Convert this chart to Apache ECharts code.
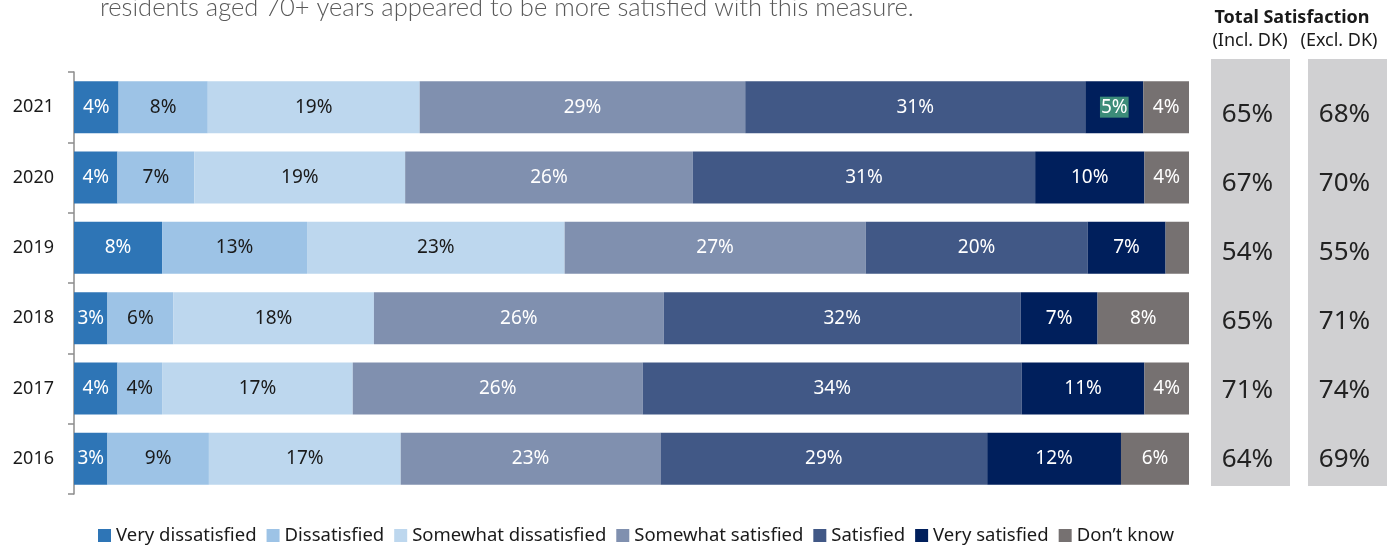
<!DOCTYPE html>
<html>
<head>
<meta charset="utf-8">
<title>Total Satisfaction</title>
<script src="https://cdn.jsdelivr.net/npm/echarts@6/dist/echarts.min.js"></script>
<style>
  html, body { margin: 0; padding: 0; background: #fff; }
  #main { width: 1394px; height: 546px; }
</style>
</head>
<body>
<div id="main"></div>
<script>
// years, top to bottom
var years = ['2021', '2020', '2019', '2018', '2017', '2016'];

// shares per year (%)
var veryDissatisfied     = [4.0, 3.9, 7.9, 3.0, 3.9, 3.0];
var dissatisfied         = [8.0, 6.9, 13.0, 5.9, 4.0, 9.1];
var somewhatDissatisfied = [19.0, 18.9, 23.1, 18.0, 17.1, 17.2];
var somewhatSatisfied    = [29.2, 25.8, 27.0, 26.0, 26.0, 23.3];
var satisfied            = [30.5, 30.7, 19.9, 32.0, 34.0, 29.3];
var verySatisfied        = [5.2, 9.8, 7.0, 6.9, 11.0, 12.0];
var dontKnow             = [4.1, 4.0, 2.1, 8.2, 4.0, 6.1];

// total satisfaction columns
var totalInclDK = [65, 67, 54, 65, 71, 64];
var totalExclDK = [68, 70, 55, 71, 74, 69];

var FONT = 'Noto Sans';

var seriesDefs = [
	{ name: 'Very dissatisfied',     data: veryDissatisfied,     color: '#2e75b6', text: '#fff' },
	{ name: 'Dissatisfied',          data: dissatisfied,         color: '#9dc3e6', text: '#1a1a1a' },
	{ name: 'Somewhat dissatisfied', data: somewhatDissatisfied, color: '#bdd7ee', text: '#1a1a1a' },
	{ name: 'Somewhat satisfied',    data: somewhatSatisfied,    color: '#8090af', text: '#fff' },
	{ name: 'Satisfied',             data: satisfied,            color: '#415886', text: '#fff' },
	{ name: 'Very satisfied',        data: verySatisfied,        color: '#001f5c', text: '#fff' },
	{ name: 'Don\u2019t know',       data: dontKnow,             color: '#767171', text: '#fff' }
];

var series = seriesDefs.map(function (d) {
	return {
		name: d.name,
		type: 'bar',
		stack: 'all',
		barCategoryGap: '26%',
		itemStyle: { color: d.color },
		label: {
			show: true,
			position: 'inside',
			color: d.text,
			fontFamily: FONT,
			fontSize: 19,
			formatter: function (p) {
				return p.value < 2.5 ? '' : Math.round(p.value) + '%';
			}
		},
		data: d.data.map(function (v, i) {
			// 2021 "Very satisfied" label is highlighted in the source
			if (d.name === 'Very satisfied' && i === 0) {
				return { value: v, label: { backgroundColor: '#3c8c79', padding: [1, 1] } };
			}
			return v;
		})
	};
});

function totalSeries(idx, values) {
	return {
		name: 'total' + idx,
		type: 'bar',
		xAxisIndex: idx,
		yAxisIndex: idx,
		barWidth: '100%',
		silent: true,
		itemStyle: { color: 'rgba(0,0,0,0)' },
		label: {
			show: true,
			position: 'inside',
			offset: [-3, 0],
			color: '#222',
			fontFamily: FONT,
			fontSize: 26,
			formatter: function (p) { return values[p.dataIndex] + '%'; }
		},
		data: values.map(function () { return 1; })
	};
}
series.push(totalSeries(1, totalInclDK));
series.push(totalSeries(2, totalExclDK));

var chart = echarts.init(document.getElementById('main'));

var option = {
	animation: false,
	textStyle: { fontFamily: FONT },
	grid: [
		{ left: 74, right: 205, top: 72, bottom: 52 },
		{ left: 1211, width: 79, top: 80, height: 414 },
		{ left: 1308, width: 79, top: 80, height: 414 }
	],
	xAxis: [
		{ type: 'value', min: 0, max: 100, show: false, gridIndex: 0 },
		{ type: 'value', min: 0, max: 1, show: false, gridIndex: 1 },
		{ type: 'value', min: 0, max: 1, show: false, gridIndex: 2 }
	],
	yAxis: [
		{
			type: 'category',
			gridIndex: 0,
			inverse: true,
			data: years,
			axisLine: { lineStyle: { color: '#8c8c8c', width: 1.5 } },
			axisTick: { show: true, length: 6, lineStyle: { color: '#8c8c8c', width: 1.5 } },
			axisLabel: { fontSize: 18, color: '#1a1a1a', margin: 20, fontFamily: FONT }
		},
		{ type: 'category', gridIndex: 1, inverse: true, data: years, show: false },
		{ type: 'category', gridIndex: 2, inverse: true, data: years, show: false }
	],
	legend: {
		left: 93,
		top: 521,
		icon: 'rect',
		itemWidth: 13,
		itemHeight: 13,
		itemGap: 10,
		data: seriesDefs.map(function (d) { return d.name; }),
		textStyle: { fontSize: 18.5, color: '#1a1a1a', fontFamily: FONT }
	},
	graphic: [
		{ type: 'rect', left: 1211, top: 59, shape: { width: 79, height: 427 }, style: { fill: '#d0d0d2' }, z: -1 },
		{ type: 'rect', left: 1308, top: 59, shape: { width: 79, height: 427 }, style: { fill: '#d0d0d2' }, z: -1 },
		{
			type: 'text', x: 1292, y: 18,
			style: { text: 'Total Satisfaction', font: 'bold 18px "Noto Sans"', fill: '#1a1a1a', align: 'center', verticalAlign: 'middle' }
		},
		{
			type: 'text', x: 1250, y: 41,
			style: { text: '(Incl. DK)', font: '18px "Noto Sans"', fill: '#1a1a1a', align: 'center', verticalAlign: 'middle' }
		},
		{
			type: 'text', x: 1339, y: 41,
			style: { text: '(Excl. DK)', font: '18px "Noto Sans"', fill: '#1a1a1a', align: 'center', verticalAlign: 'middle' }
		},
		{
			type: 'text', x: 100, y: 8,
			style: { text: 'residents aged 70+ years appeared to be more satisfied with this measure.', font: '300 25.5px Lato', fill: '#595959', align: 'left', verticalAlign: 'middle' }
		}
	],
	series: series
};

chart.setOption(option);
</script>
</body>
</html>
